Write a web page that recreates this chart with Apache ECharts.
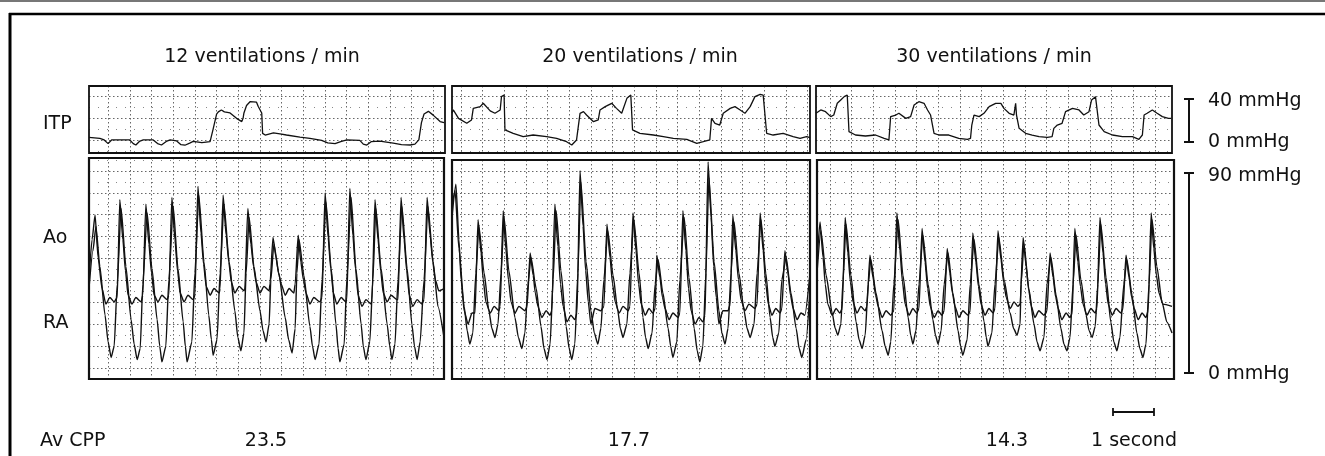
<!DOCTYPE html>
<html><head><meta charset="utf-8">
<script src="https://cdn.jsdelivr.net/npm/echarts@6/dist/echarts.min.js"></script>
<style>html,body{margin:0;padding:0;background:#fff}#c{width:1325px;height:456px}</style>
</head><body><div id="c"></div>
<script>
// ---------- DATA ----------
const panelTitles = ['12 ventilations / min', '20 ventilations / min', '30 ventilations / min'];
const avCPP = ['23.5', '17.7', '14.3'];
const rowLabels = ['ITP', 'Ao', 'RA', 'Av CPP'];
const itpScaleLabels = ['40 mmHg', '0 mmHg'];
const mainScaleLabels = ['90 mmHg', '0 mmHg'];
const timeScaleLabel = '1 second';

// time in s from panel left edge, pressure in mmHg
const itp1 = [[0.00,4.3],[0.25,3.4],[0.35,1.9],[0.44,-1.5],[0.52,1.9],[0.94,1.9],[1.02,-1.5],[1.08,-2.8],[1.16,0.5],[1.25,1.9],[1.48,1.9],[1.58,-1.5],[1.67,-2.8],[1.78,0.5],[1.87,1.9],[2.02,1.0],[2.12,-2.5],[2.21,-3.0],[2.32,-1.0],[2.40,0.5],[2.60,-0.6],[2.79,0.3],[2.86,12],[2.94,26],[2.98,28],[3.05,29.8],[3.12,28],[3.25,27],[3.40,22],[3.52,19],[3.55,22],[3.57,27],[3.63,34],[3.71,37.5],[3.86,37],[3.90,33],[3.98,27],[4.00,8],[4.06,6.5],[4.25,8.5],[4.40,7.5],[4.55,6.5],[4.86,4.5],[5.09,3.4],[5.36,1.5],[5.50,-0.8],[5.67,-1.5],[5.80,0.3],[5.94,1.9],[6.24,1.5],[6.32,-2.0],[6.40,-2.8],[6.50,0.3],[6.70,0.8],[7.01,-1.0],[7.20,-2.5],[7.40,-2.8],[7.51,-2.0],[7.60,2],[7.66,18],[7.72,26],[7.82,28.5],[7.93,25],[8.09,19],[8.18,18]];
const itp2 = [[0.00,27],[0.03,29.8],[0.15,22.0],[0.34,17.4],[0.45,20.5],[0.49,31.3],[0.65,32.9],[0.72,36.0],[0.88,29],[0.99,26.7],[1.11,29.8],[1.14,42.2],[1.20,43.7],[1.22,11.2],[1.41,8.1],[1.64,5.0],[1.87,6.5],[2.18,5.0],[2.41,3.4],[2.64,0.3],[2.76,-2.8],[2.87,1.9],[2.95,26.7],[3.03,28.2],[3.10,25.1],[3.26,18.9],[3.37,20.5],[3.41,29.8],[3.53,32.9],[3.68,36.0],[3.79,31.3],[3.91,26.7],[4.03,40.6],[4.12,43.7],[4.16,11.2],[4.33,8.1],[4.64,6.5],[4.87,5.0],[5.10,3.4],[5.41,2.5],[5.64,-1.2],[5.79,0.3],[5.94,1.9],[5.98,22.0],[6.06,17.4],[6.17,15.8],[6.25,26.7],[6.41,31.3],[6.52,32.9],[6.64,29.8],[6.75,26.7],[6.87,32.9],[6.98,42.2],[7.10,44.3],[7.17,43.7],[7.25,8.1],[7.40,6.5],[7.63,8.1],[7.86,5.0],[8.02,3.4],[8.17,5.0],[8.25,4]];
const itp3 = [[0.00,26.7],[0.11,29.8],[0.22,28.2],[0.34,23.6],[0.41,25.1],[0.49,36.0],[0.57,39.1],[0.65,42.2],[0.72,43.7],[0.76,9.6],[0.91,6.5],[1.14,5.6],[1.37,6.5],[1.57,3.4],[1.68,1.9],[1.72,23.6],[1.84,25.1],[1.91,26.7],[2.07,22.0],[2.18,23.6],[2.26,34.4],[2.37,37.5],[2.49,36.0],[2.57,29.8],[2.64,25.1],[2.72,8.1],[2.83,6.5],[3.06,6.5],[3.29,3.4],[3.49,2.5],[3.56,3.4],[3.59,15.8],[3.64,25.1],[3.76,23.6],[3.87,26.7],[3.99,32.9],[4.14,36.0],[4.26,36.0],[4.33,31.3],[4.45,26.7],[4.56,25.1],[4.60,36.0],[4.62,25.1],[4.68,12.7],[4.83,8.1],[4.98,6.5],[5.14,5.0],[5.33,4.3],[5.44,5.0],[5.48,12.7],[5.56,15.8],[5.67,17.4],[5.75,28.2],[5.91,31.3],[6.06,29.8],[6.17,25.1],[6.29,28.2],[6.35,39.1],[6.44,42.2],[6.48,42.2],[6.52,15.8],[6.64,9.6],[6.83,6.5],[7.06,5.0],[7.29,5.0],[7.44,2.5],[7.52,6.5],[7.56,25.1],[7.63,26.7],[7.75,29.8],[7.86,26.7],[7.98,23.6],[8.12,22.0],[8.18,22]];

const ao1 = [[0.00,42],[0.07,60],[0.14,71],[0.21,52],[0.30,38],[0.39,31],[0.48,34],[0.58,32],[0.65,34],[0.71,78],[0.78,60],[0.84,46],[0.90,35],[0.99,31],[1.08,34],[1.20,32],[1.24,35],[1.31,76],[1.38,58],[1.44,45],[1.50,35],[1.59,32],[1.68,35],[1.80,33],[1.84,35],[1.91,79],[1.98,60],[2.04,46],[2.10,36],[2.19,32],[2.28,35],[2.40,33],[2.44,35],[2.51,84],[2.58,63],[2.64,49],[2.70,39],[2.79,35],[2.88,38],[3.00,36],[3.02,38],[3.09,80],[3.16,62],[3.22,50],[3.28,41],[3.36,36],[3.46,39],[3.57,37],[3.59,38],[3.66,74],[3.73,58],[3.79,48],[3.85,41],[3.94,36],[4.03,39],[4.15,37],[4.17,40],[4.24,61],[4.31,52],[4.37,45],[4.43,40],[4.52,35],[4.61,38],[4.72,36],[4.75,40],[4.82,62],[4.88,50],[4.94,42],[5.00,36],[5.09,31],[5.18,34],[5.32,32],[5.37,34],[5.44,81],[5.51,61],[5.57,47],[5.63,36],[5.71,31],[5.81,34],[5.92,32],[5.94,33],[6.01,83],[6.08,62],[6.14,47],[6.20,35],[6.29,30],[6.38,33],[6.50,31],[6.52,33],[6.59,78],[6.66,60],[6.72,46],[6.78,36],[6.87,32],[6.96,35],[7.10,33],[7.12,33],[7.19,79],[7.26,60],[7.32,46],[7.38,35],[7.46,30],[7.56,33],[7.67,31],[7.72,33],[7.79,79],[7.86,62],[7.92,50],[7.98,42],[8.06,37],[8.18,38]];
const ra1 = [[0.00,38],[0.09,55],[0.16,66],[0.25,48],[0.37,26],[0.44,14],[0.51,7],[0.58,12],[0.65,40],[0.74,74],[0.85,48],[0.97,24],[1.04,13],[1.11,6],[1.18,11],[1.24,40],[1.34,72],[1.45,47],[1.57,24],[1.63,12],[1.68,5],[1.77,12],[1.84,42],[1.94,75],[2.05,47],[2.17,23],[2.22,12],[2.26,5],[2.37,14],[2.44,45],[2.53,80],[2.65,50],[2.76,26],[2.82,15],[2.86,8],[2.95,15],[3.02,45],[3.11,76],[3.23,50],[3.36,28],[3.43,16],[3.50,10],[3.57,18],[3.62,45],[3.69,70],[3.80,48],[3.94,28],[4.01,19],[4.08,14],[4.15,22],[4.19,42],[4.26,58],[4.38,44],[4.52,25],[4.60,15],[4.68,9],[4.75,20],[4.79,45],[4.84,60],[4.95,44],[5.09,21],[5.15,12],[5.21,6],[5.30,13],[5.37,42],[5.46,77],[5.58,47],[5.69,22],[5.74,11],[5.78,5],[5.88,13],[5.94,42],[6.04,79],[6.15,47],[6.27,22],[6.32,12],[6.38,6],[6.47,14],[6.54,42],[6.61,74],[6.73,47],[6.87,22],[6.93,12],[6.98,6],[7.05,13],[7.12,42],[7.21,75],[7.33,47],[7.44,22],[7.50,12],[7.56,6],[7.63,14],[7.72,42],[7.81,75],[7.93,50],[8.04,30],[8.18,16]];
const ao2 = [[0.00,70],[0.09,85],[0.16,60],[0.21,42],[0.28,28],[0.37,22],[0.46,27],[0.53,27],[0.60,69],[0.67,54],[0.72,42],[0.78,32],[0.88,27],[0.97,30],[1.08,28],[1.11,30],[1.18,73],[1.24,56],[1.30,42],[1.36,32],[1.45,27],[1.54,30],[1.68,28],[1.73,30],[1.80,54],[1.87,44],[1.92,36],[1.98,30],[2.07,25],[2.17,28],[2.26,26],[2.30,28],[2.37,76],[2.44,57],[2.50,40],[2.56,30],[2.65,23],[2.74,26],[2.83,24],[2.88,27],[2.95,91],[3.02,66],[3.08,46],[3.14,32],[3.20,22],[3.29,29],[3.43,28],[3.50,30],[3.57,67],[3.64,52],[3.70,40],[3.76,32],[3.85,27],[3.94,30],[4.06,28],[4.10,30],[4.17,72],[4.24,55],[4.30,40],[4.36,31],[4.45,26],[4.54,29],[4.63,27],[4.68,29],[4.72,53],[4.79,43],[4.85,34],[4.91,29],[5.00,24],[5.09,27],[5.21,25],[5.25,27],[5.32,73],[5.39,55],[5.45,38],[5.51,28],[5.60,22],[5.69,25],[5.78,23],[5.83,26],[5.90,95],[5.97,70],[6.03,48],[6.09,34],[6.15,22],[6.24,28],[6.36,28],[6.41,31],[6.47,71],[6.54,55],[6.60,42],[6.66,33],[6.75,28],[6.84,31],[6.98,29],[7.03,31],[7.10,72],[7.17,55],[7.23,40],[7.29,31],[7.37,26],[7.46,29],[7.56,27],[7.60,29],[7.67,55],[7.74,45],[7.80,35],[7.86,29],[7.95,24],[8.04,27],[8.13,26],[8.25,45]];
const ra2 = [[0.00,75],[0.07,82],[0.16,56],[0.28,30],[0.35,19],[0.41,13],[0.48,18],[0.55,45],[0.62,66],[0.74,45],[0.85,28],[0.92,20],[0.99,16],[1.06,22],[1.13,45],[1.20,70],[1.31,46],[1.45,25],[1.53,16],[1.61,11],[1.68,18],[1.75,40],[1.82,52],[1.94,38],[2.05,21],[2.12,11],[2.19,6],[2.26,13],[2.33,42],[2.40,73],[2.51,46],[2.63,21],[2.70,11],[2.76,6],[2.83,13],[2.90,45],[2.97,86],[3.09,50],[3.20,28],[3.28,18],[3.36,13],[3.43,20],[3.50,42],[3.59,64],[3.71,44],[3.82,28],[3.88,20],[3.94,16],[4.03,22],[4.10,45],[4.19,69],[4.31,45],[4.40,25],[4.46,16],[4.52,11],[4.61,18],[4.68,40],[4.75,51],[4.86,36],[4.98,20],[5.04,12],[5.09,7],[5.18,14],[5.25,42],[5.35,70],[5.46,43],[5.58,20],[5.65,10],[5.71,5],[5.78,12],[5.85,45],[5.92,88],[6.04,50],[6.15,28],[6.22,18],[6.29,13],[6.36,20],[6.43,45],[6.50,68],[6.61,45],[6.73,28],[6.80,20],[6.87,16],[6.96,22],[7.03,45],[7.12,69],[7.23,45],[7.33,25],[7.39,16],[7.44,12],[7.53,18],[7.60,42],[7.70,52],[7.81,36],[7.93,20],[8.00,11],[8.06,7],[8.16,15],[8.25,38]];
const ao3 = [[0.00,50],[0.07,68],[0.14,52],[0.19,40],[0.25,31],[0.35,26],[0.44,29],[0.53,27],[0.58,29],[0.65,70],[0.71,54],[0.77,41],[0.83,32],[0.92,27],[1.01,30],[1.11,28],[1.15,30],[1.22,53],[1.29,43],[1.35,35],[1.41,30],[1.50,25],[1.59,28],[1.70,26],[1.77,28],[1.84,72],[1.91,55],[1.97,41],[2.03,31],[2.12,26],[2.21,29],[2.30,27],[2.35,29],[2.42,65],[2.49,50],[2.55,38],[2.61,30],[2.70,25],[2.79,28],[2.88,26],[2.93,28],[3.00,56],[3.06,45],[3.12,36],[3.18,30],[3.27,25],[3.36,28],[3.48,26],[3.53,28],[3.59,63],[3.66,50],[3.72,39],[3.78,31],[3.87,26],[3.96,29],[4.06,27],[4.10,29],[4.17,64],[4.24,51],[4.30,41],[4.36,34],[4.45,29],[4.54,32],[4.63,30],[4.68,31],[4.75,61],[4.82,48],[4.88,37],[4.94,30],[5.02,25],[5.11,28],[5.23,26],[5.30,28],[5.37,54],[5.44,43],[5.50,34],[5.56,29],[5.64,24],[5.74,27],[5.83,25],[5.88,27],[5.94,65],[6.01,50],[6.07,39],[6.13,31],[6.22,26],[6.31,29],[6.41,27],[6.45,29],[6.52,70],[6.59,54],[6.65,40],[6.71,31],[6.80,26],[6.89,29],[7.00,27],[7.05,29],[7.12,53],[7.19,43],[7.25,34],[7.31,29],[7.40,24],[7.49,27],[7.58,25],[7.63,28],[7.70,72],[7.76,56],[7.82,44],[7.88,36],[7.97,31],[8.18,30]];
const ra3 = [[0.00,45],[0.09,64],[0.21,44],[0.35,27],[0.42,20],[0.48,17],[0.55,22],[0.60,42],[0.67,67],[0.78,44],[0.90,23],[0.97,15],[1.04,11],[1.11,17],[1.18,40],[1.24,51],[1.36,36],[1.50,19],[1.57,12],[1.64,8],[1.70,14],[1.77,40],[1.87,69],[1.98,44],[2.10,25],[2.16,17],[2.21,13],[2.28,19],[2.35,40],[2.44,62],[2.56,40],[2.67,24],[2.73,17],[2.79,13],[2.86,19],[2.93,40],[3.02,54],[3.13,36],[3.25,19],[3.31,12],[3.36,8],[3.46,15],[3.53,40],[3.62,60],[3.73,40],[3.85,23],[3.90,16],[3.94,12],[4.03,18],[4.10,40],[4.19,61],[4.31,42],[4.45,27],[4.53,20],[4.61,17],[4.68,22],[4.70,40],[4.77,58],[4.88,38],[5.00,22],[5.07,14],[5.14,10],[5.23,16],[5.30,40],[5.39,52],[5.51,35],[5.62,20],[5.69,13],[5.76,10],[5.83,16],[5.90,40],[5.97,62],[6.08,42],[6.20,26],[6.27,19],[6.34,16],[6.41,21],[6.47,40],[6.54,67],[6.66,43],[6.77,23],[6.84,14],[6.91,10],[6.98,16],[7.07,40],[7.14,51],[7.26,35],[7.37,18],[7.44,11],[7.51,7],[7.58,13],[7.65,40],[7.72,69],[7.83,48],[7.95,32],[8.06,23],[8.18,18]];

const itpSeries = [itp1, itp2, itp3];
const aoSeries = [ao1, ao2, ao3];
const raSeries = [ra1, ra2, ra3];

// ---------- LAYOUT (pixels) ----------
const FONT = '"DejaVu Sans", "Liberation Sans", Arial, sans-serif';
const FS = 19;
const PX_PER_SEC = 43.4;      // time scale
const GRID_DX = 21.65;        // chart paper vertical line spacing
const scales = {
  itp:  { zeroY: 142, pxPerUnit: 1.075, firstLineY: 140, gridDy: 21.65 },
  main: { zeroY: 373, pxPerUnit: 2.222, firstLineY: 368, gridDy: 21.9 }
};
const panels = [
  { itp: [89, 86, 356, 67],  main: [89, 158, 355, 221],  firstLineX: 108.3 },
  { itp: [452, 86, 358, 67], main: [452, 160, 358, 219], firstLineX: 461 },
  { itp: [816, 86, 356, 67], main: [817, 160, 357, 219], firstLineX: 830 }
];

const grids = [], xAxes = [], yAxes = [], series = [];
const majorStyle = { color: '#666', type: [1.5, 2.5], width: 1 };
const minorStyle = { color: '#888', type: [1, 8], width: 1 };

function addPanel(rect, kind, firstLineX, seriesList) {
  const [l, t, w, h] = rect;
  const sc = scales[kind];
  const g = grids.length;
  grids.push({ left: l, top: t, width: w, height: h, show: true,
    borderColor: '#111', borderWidth: kind === 'main' ? 2.2 : 1.8, backgroundColor: 'transparent', z: 3 });
  const gxMin = -(firstLineX - l) / GRID_DX;
  const bottom = t + h;
  // chart-paper grid axes
  xAxes.push({ gridIndex: g, type: 'value', position: 'top', min: gxMin, max: gxMin + w / GRID_DX,
    minInterval: 1, maxInterval: 1, axisLine: { show: false }, axisTick: { show: false }, axisLabel: { show: false },
    splitLine: { show: true, showMinLine: false, showMaxLine: false, lineStyle: majorStyle } });
  const gyMin = -(bottom - sc.firstLineY) / sc.gridDy;
  const gyMax = (sc.firstLineY - t) / sc.gridDy;
  yAxes.push({ gridIndex: g, type: 'value', position: 'left', min: gyMin, max: gyMax,
    minInterval: 1, maxInterval: 1, axisLine: { show: false }, axisTick: { show: false }, axisLabel: { show: false },
    splitLine: { show: true, showMinLine: false, showMaxLine: false, lineStyle: majorStyle },
    minorTick: { show: false, splitNumber: 2 },
    minorSplitLine: { show: true, lineStyle: minorStyle } });
  // data axes: seconds / mmHg
  const xi = xAxes.length;
  xAxes.push({ gridIndex: g, type: 'value', position: 'bottom', min: 0, max: w / PX_PER_SEC, show: false });
  const yi = yAxes.length;
  yAxes.push({ gridIndex: g, type: 'value', position: 'right',
    min: -(bottom - sc.zeroY) / sc.pxPerUnit, max: (sc.zeroY - t) / sc.pxPerUnit, show: false });
  seriesList.forEach(d => series.push({
    type: 'line', xAxisIndex: xi, yAxisIndex: yi, data: d, symbol: 'none', showSymbol: false,
    smooth: kind === 'main' ? 0.2 : false, smoothMonotone: 'x',
    lineStyle: { color: '#111', width: kind === 'main' ? 1.4 : 1.3 }, clip: true, silent: true, animation: false, z: 5
  }));
}

panels.forEach((p, i) => {
  addPanel(p.itp, 'itp', p.firstLineX, [itpSeries[i]]);
  addPanel(p.main, 'main', p.firstLineX, [aoSeries[i], raSeries[i]]);
});

function txt(x, y, text, align) {
  return { type: 'text', x: x, y: y, z: 10, silent: true,
    style: { text: text, font: FS + 'px ' + FONT, fill: '#111',
      textAlign: align || 'left', textVerticalAlign: 'middle', align: align || 'left', verticalAlign: 'middle' } };
}
function seg(x1, y1, x2, y2, w, c) {
  return { type: 'line', z: 10, silent: true, shape: { x1, y1, x2, y2 },
    style: { stroke: c || '#111', lineWidth: w || 2 } };
}
const titleX = [262, 640, 994];
const cppX = [266, 629, 1007];
const graphics = [
  seg(0, 1, 1325, 1, 2, '#777'),
  seg(9, 14, 1325, 14, 2.5, '#000'),
  seg(10, 13, 10, 456, 3, '#000'),
  txt(43, 124, rowLabels[0]), txt(43, 238, rowLabels[1]), txt(43, 323, rowLabels[2]), txt(40, 441, rowLabels[3]),
  // ITP scale bar
  seg(1189, 99, 1189, 142, 2), seg(1184, 99, 1194, 99, 2), seg(1184, 142, 1194, 142, 2),
  txt(1208, 101, itpScaleLabels[0]), txt(1208, 142, itpScaleLabels[1]),
  // main scale bar
  seg(1189, 173, 1189, 373, 2), seg(1184, 173, 1194, 173, 2), seg(1184, 373, 1194, 373, 2),
  txt(1208, 176, mainScaleLabels[0]), txt(1208, 374, mainScaleLabels[1]),
  // time bar
  seg(1113, 412, 1154, 412, 1.8), seg(1113, 408, 1113, 416, 1.8), seg(1154, 408, 1154, 416, 1.8),
  txt(1134, 441, timeScaleLabel, 'center')
];
panelTitles.forEach((t, i) => graphics.push(txt(titleX[i], 57, t, 'center')));
avCPP.forEach((t, i) => graphics.push(txt(cppX[i], 441, t, 'center')));

const chart = echarts.init(document.getElementById('c'), null, { renderer: 'canvas' });
chart.setOption({
  animation: false,
  backgroundColor: '#fff',
  grid: grids, xAxis: xAxes, yAxis: yAxes, series: series,
  graphic: { elements: graphics }
});
</script>
</body></html>
